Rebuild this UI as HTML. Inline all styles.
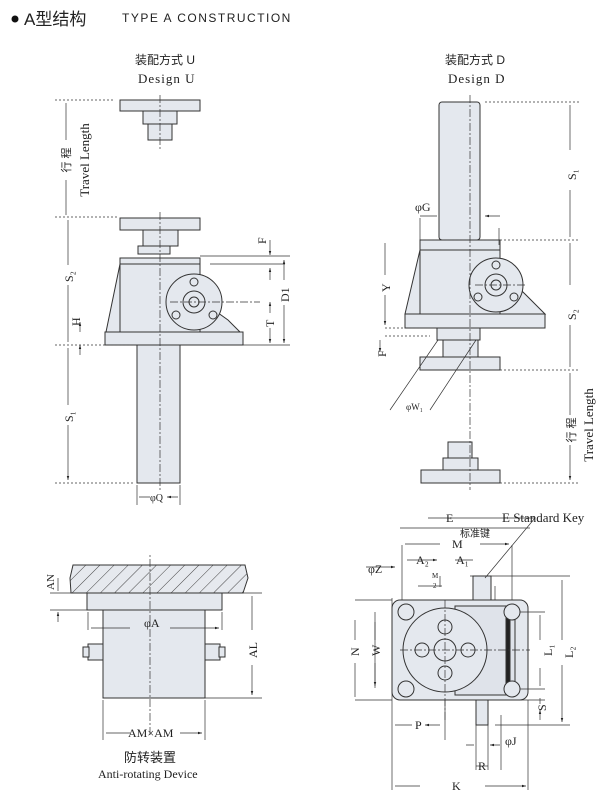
<!DOCTYPE html>
<html><head><meta charset="utf-8"><style>
body{margin:0;background:#fff;width:612px;height:800px;overflow:hidden}
svg{display:block}
text{font-family:"Liberation Serif","Noto Serif CJK SC",serif;fill:#222}
.s{font-family:"Liberation Sans","Noto Sans CJK SC",sans-serif}
</style></head><body>
<svg width="612" height="800" viewBox="0 0 612 800">
<defs>
<marker id="a" viewBox="0 0 10 10" refX="10" refY="5" markerWidth="6" markerHeight="6" orient="auto-start-reverse"><path d="M0,2L10,5L0,8z" fill="#222"/></marker>
<pattern id="h" width="10" height="10" patternUnits="userSpaceOnUse" patternTransform="rotate(45)"><rect width="10" height="10" fill="#e6e9ee"/><line x1="0" y1="0" x2="0" y2="10" stroke="#444" stroke-width="1"/></pattern>
</defs>
<circle cx="15" cy="19" r="3.5" fill="#111"/>
<text x="24" y="25" class="s" font-size="17" fill="#111">A型结构</text>
<text x="122" y="22" class="s" font-size="12" letter-spacing="1.5">TYPE A CONSTRUCTION</text>

<text x="135" y="64" class="s" font-size="12">装配方式 U</text>
<text x="138" y="83" font-size="13" letter-spacing="1">Design U</text>
<text x="445" y="64" class="s" font-size="12">装配方式 D</text>
<text x="448" y="83" font-size="13" letter-spacing="1">Design D</text>

<g fill="#e4e8ee" stroke="#333" stroke-width="1">
<rect x="120" y="100" width="80" height="11"/>
<rect x="143" y="111" width="34" height="13"/>
<rect x="148" y="124" width="24" height="16"/>
<rect x="120" y="218" width="80" height="12"/>
<rect x="143" y="230" width="35" height="16"/>
<rect x="138" y="246" width="32" height="8"/>
<path d="M120,258H200V264H120z"/>
<path d="M120,264L106,332H240L228,320L200,300V264z"/>
<rect x="120" y="264" width="80" height="68"/>
<rect x="105" y="332" width="138" height="13"/>
<rect x="137" y="345" width="43" height="138"/>
<circle cx="194" cy="302" r="28"/>
<circle cx="194" cy="302" r="11"/>
<circle cx="194" cy="302" r="5"/>
<circle cx="194" cy="282" r="4"/><circle cx="176" cy="315" r="4"/><circle cx="213" cy="315" r="4"/>
<rect x="439" y="102" width="41" height="138" rx="3"/>
<rect x="420" y="240" width="80" height="10"/>
<path d="M420,250L405,314H545L525,294L500,270V250z"/>
<rect x="420" y="250" width="80" height="64"/>
<rect x="405" y="314" width="140" height="14"/>
<circle cx="496" cy="285" r="27"/>
<circle cx="496" cy="285" r="11"/>
<circle cx="496" cy="285" r="5"/>
<circle cx="496" cy="265" r="4"/><circle cx="478" cy="297" r="4"/><circle cx="514" cy="297" r="4"/>
<rect x="437" y="328" width="43" height="12"/>
<rect x="443" y="340" width="35" height="17"/>
<rect x="420" y="357" width="80" height="13"/>
<rect x="448" y="442" width="24" height="16"/>
<rect x="443" y="458" width="35" height="12"/>
<rect x="421" y="470" width="79" height="13"/>
<path d="M73,565H245L248,578L243,593H71L70,578z" fill="url(#h)"/>
<rect x="87" y="593" width="135" height="17"/>
<rect x="103" y="610" width="102" height="88"/>
<rect x="88" y="644" width="15" height="16"/><rect x="83" y="647" width="6" height="10"/>
<rect x="205" y="644" width="15" height="16"/><rect x="219" y="647" width="6" height="10"/>
<rect x="473" y="576" width="18" height="30"/>
<rect x="392" y="600" width="136" height="100" rx="8"/>
<rect x="455" y="606" width="60" height="89" fill="#dfe3ea"/>
<rect x="506" y="606" width="4" height="89" fill="#222"/>
<circle cx="445" cy="650" r="42"/>
<circle cx="445" cy="650" r="11"/>
<circle cx="445" cy="627" r="7"/><circle cx="445" cy="673" r="7"/>
<circle cx="422" cy="650" r="7"/><circle cx="468" cy="650" r="7"/>
<circle cx="406" cy="612" r="8"/><circle cx="406" cy="689" r="8"/>
<circle cx="512" cy="612" r="8"/><circle cx="512" cy="689" r="8"/>
<rect x="476" y="700" width="12" height="25"/>
</g>

<g stroke="#333" stroke-width="0.7" fill="none">
<path d="M160,95V150M160,212V490M470,95V490" stroke-dasharray="8 2 2 2"/>
<path d="M170,302H260M475,285H525M150,735V555M445,600V720M400,650H530" stroke-dasharray="8 2 2 2"/>
<path d="M55,100H115M55,217H118M55,345H135M55,483H135" stroke-dasharray="2 2"/>
<path d="M66,103V140M66,180V215M68,220V265M68,285V342M68,348V405M68,425V480" marker-end="url(#a)"/>
<path d="M200,256H290M210,264H285M230,345H290" />
<path d="M270,240V255" marker-end="url(#a)"/><path d="M270,268V280" marker-start="url(#a)"/>
<path d="M284,260V280" marker-start="url(#a)"/><path d="M284,305V343" marker-end="url(#a)"/>
<path d="M270,302V313" marker-start="url(#a)"/><path d="M270,328V343" marker-end="url(#a)"/>
<path d="M80,332V322" marker-end="url(#a)"/><path d="M80,345V355" marker-start="url(#a)"/>
<path d="M137,485V505M180,485V505M139,497H150M178,497H167" marker-end="url(#a)"/>
<path d="M485,102H580M420,240H580M385,328H420M385,336H430M500,370H580M500,483H580" stroke-dasharray="2 2"/>
<path d="M570,105V150M570,190V237M570,243V285M570,325V367M570,373V415M570,445V480" marker-end="url(#a)"/>
<path d="M385,243V275M385,295V325" marker-end="url(#a)"/>
<path d="M380,340V352" marker-end="url(#a)"/>
<path d="M420,228V245M499,228V245M420,218V250"/>
<path d="M420,216H437M500,216H485" marker-end="url(#a)"/>
<path d="M390,410L438,340M430,410L476,340"/>
<path d="M50,593H87M50,610H87M205,593H262M205,698H262"/>
<path d="M58,578V591M58,622V612" marker-end="url(#a)"/>
<path d="M252,596V630M252,665V695" marker-end="url(#a)"/>
<path d="M103,700V740M205,700V740M130,733H106M180,733H202" marker-end="url(#a)"/>
<path d="M88,612V630M222,612V630M130,628H91M170,628H219" marker-end="url(#a)"/>
<path d="M400,528H530M392,598V790M528,700V790M402,545V600M512,545V600"/>
<path d="M440,544H405M480,544H509" marker-end="url(#a)"/>
<path d="M425,560H407M455,560H473M425,560H437" marker-end="url(#a)"/>
<path d="M440,576V587M442,586H418M495,586V600" />
<path d="M355,600H392M355,700H392M375,612V688M520,612H545M520,689H545M470,576H570M495,725H570M520,700H545"/>
<path d="M355,620V640M355,663V697M375,622V640M375,663V686" marker-end="url(#a)"/>
<path d="M540,615V640M540,668V686M562,580V640M562,665V722" marker-end="url(#a)"/>
<path d="M540,698V704M540,720V710" marker-end="url(#a)"/>
<path d="M366,567H395" marker-end="url(#a)"/>
<path d="M395,725H412M440,725H425" marker-end="url(#a)"/>
<path d="M445,700V740M476,715V770M488,715V770M501,715V770"/>
<path d="M466,745H474M500,745H490" marker-end="url(#a)"/>
<path d="M476,766H488"/>
<path d="M420,786H395M485,786H526" marker-end="url(#a)"/>
<path d="M428,518H535L485,578"/>
</g>

<g font-size="12">
<text transform="translate(89,160) rotate(-90)" text-anchor="middle" font-size="13">Travel Length</text>
<text transform="translate(70,160) rotate(-90)" text-anchor="middle" class="s" font-size="11">行 程</text>
<text transform="translate(73,282) rotate(-90)">S₂</text>
<text transform="translate(73,422) rotate(-90)">S₁</text>
<text transform="translate(80,326) rotate(-90)">H</text>
<text transform="translate(266,244) rotate(-90)">F</text>
<text transform="translate(289,302) rotate(-90)">D1</text>
<text transform="translate(274,327) rotate(-90)">T</text>
<text x="150" y="501" font-size="10">φQ</text>
<text transform="translate(576,180) rotate(-90)">S₁</text>
<text transform="translate(576,320) rotate(-90)">S₂</text>
<text transform="translate(593,425) rotate(-90)" text-anchor="middle" font-size="13">Travel Length</text>
<text transform="translate(575,430) rotate(-90)" text-anchor="middle" class="s" font-size="11">行 程</text>
<text transform="translate(390,292) rotate(-90)">Y</text>
<text transform="translate(386,357) rotate(-90)">F</text>
<text x="415" y="211">φG</text>
<text x="406" y="410" font-size="9">φW₁</text>
<text transform="translate(54,590) rotate(-90)" font-size="11">AN</text>
<text x="144" y="627">φA</text>
<text transform="translate(257,658) rotate(-90)">AL</text>
<text x="128" y="737">AM×AM</text>
<text x="124" y="762" class="s" font-size="13">防转装置</text>
<text x="98" y="778">Anti-rotating Device</text>
<text x="446" y="522">E</text>
<text x="502" y="522" font-size="13">E Standard Key</text>
<text x="460" y="537" class="s" font-size="10">标准键</text>
<text x="452" y="548">M</text>
<text x="416" y="564">A₂</text>
<text x="456" y="564">A₁</text>
<text x="432" y="578" font-size="7">M</text>
<text x="433" y="588" font-size="7">2</text>
<text x="368" y="573">φZ</text>
<text transform="translate(359,656) rotate(-90)">N</text>
<text transform="translate(380,656) rotate(-90)">W</text>
<text transform="translate(552,656) rotate(-90)">L₁</text>
<text transform="translate(573,658) rotate(-90)">L₂</text>
<text transform="translate(546,711) rotate(-90)">S</text>
<text x="415" y="729">P</text>
<text x="505" y="745">φJ</text>
<text x="478" y="770">R</text>
<text x="452" y="790">K</text>
</g>
</svg>
</body></html>
